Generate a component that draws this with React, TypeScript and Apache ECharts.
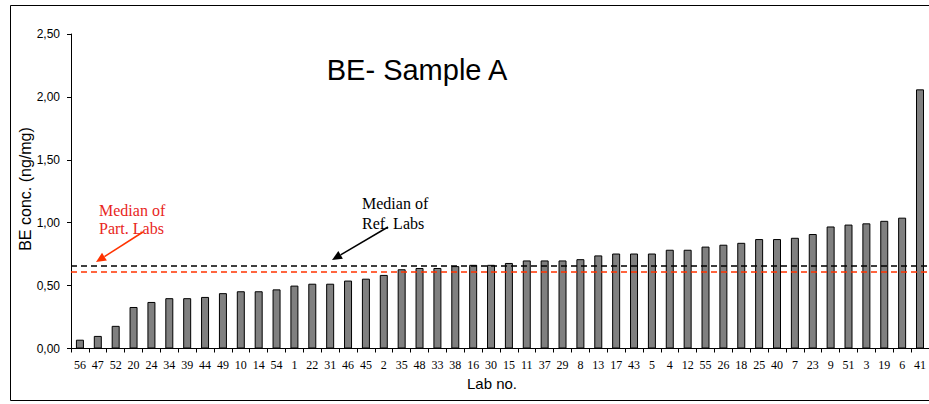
import React, { useEffect, useRef } from "react";
import * as echarts from "echarts";

const labs = ["56","47","52","20","24","34","39","44","49","10","14","54","1","22","31","46","45","2","35","48","33","38","16","30","15","11","37","29","8","13","17","43","5","4","12","55","26","18","25","40","7","23","9","51","3","19","6","41"];
const concentrations = [0.07,0.10,0.18,0.33,0.37,0.40,0.40,0.41,0.44,0.455,0.455,0.47,0.50,0.515,0.515,0.54,0.555,0.585,0.63,0.64,0.64,0.655,0.665,0.665,0.68,0.70,0.70,0.70,0.71,0.74,0.755,0.755,0.755,0.785,0.785,0.81,0.825,0.84,0.87,0.87,0.88,0.91,0.97,0.985,0.995,1.015,1.04,2.06];
const medianRef = 0.655;
const medianPart = 0.61;
const yTicks = [0, 0.5, 1.0, 1.5, 2.0, 2.5];

function arrow(x1: number, y1: number, x2: number, y2: number, color: string) {
  const ang = Math.atan2(y2 - y1, x2 - x1);
  const L = 10, W = 4.5;
  const bx = x2 - L * Math.cos(ang), by = y2 - L * Math.sin(ang);
  const px = -Math.sin(ang) * W, py = Math.cos(ang) * W;
  return [
    { type: "line", shape: { x1, y1, x2: bx, y2: by }, style: { stroke: color, lineWidth: 1.5 } },
    { type: "polygon", shape: { points: [[x2, y2], [bx + px, by + py], [bx - px, by - py]] }, style: { fill: color } },
  ];
}

export default function App() {
  const ref = useRef<HTMLDivElement>(null);
  useEffect(() => {
    if (!ref.current) return;
    const chart = echarts.init(ref.current, null, { renderer: "svg" });
    chart.setOption({
      animation: false,
      backgroundColor: "#ffffff",
      grid: { left: 71, right: 0, top: 34, bottom: 55.5, containLabel: false },
      xAxis: {
        type: "category",
        data: labs,
        name: "Lab no.",
        nameLocation: "middle",
        nameGap: 27,
        nameTextStyle: { fontFamily: "Liberation Sans, Arial", fontSize: 15, color: "#000", padding: [0, 16, 0, 0] },
        axisLine: { lineStyle: { color: "#000", width: 1 } },
        axisTick: { show: true, alignWithLabel: false, length: 4, lineStyle: { color: "#000" } },
        axisLabel: { interval: 0, fontFamily: "Liberation Serif, Times New Roman", fontSize: 12, color: "#000", margin: 10 },
      },
      yAxis: {
        type: "value",
        min: 0,
        max: 2.5,
        interval: 0.5,
        axisLine: { show: true, lineStyle: { color: "#000", width: 1 } },
        axisTick: { show: true, length: 4, lineStyle: { color: "#000" } },
        splitLine: { show: false },
        axisLabel: {
          fontFamily: "Liberation Sans, Arial",
          fontSize: 12,
          color: "#000",
          margin: 11,
          formatter: (v: number) => (yTicks.includes(v) ? v.toFixed(2).replace(".", ",") : ""),
        },
      },
      series: [
        {
          type: "bar",
          data: concentrations,
          barWidth: 8,
          itemStyle: { color: "#808080", borderColor: "#000", borderWidth: 1 },
          markLine: {
            silent: true,
            symbol: "none",
            label: { show: false },
            data: [
              { yAxis: medianRef, lineStyle: { color: "#000", type: [6, 4], width: 1.5 } },
              { yAxis: medianPart, lineStyle: { color: "#ff3300", type: [6, 4], width: 1.5 } },
            ],
          },
        },
      ],
      graphic: [
        { type: "rect", shape: { x: 10.5, y: 5.5, width: 940, height: 395 }, style: { fill: "none", stroke: "#000", lineWidth: 1 }, silent: true },
        { type: "text", x: 25, y: 189, rotation: Math.PI / 2, style: { text: "BE conc. (ng/mg)", font: "16px 'Liberation Sans', Arial", fill: "#000", align: "center", verticalAlign: "middle" } },
        { type: "text", x: 417, y: 70, style: { text: "BE- Sample A", font: "29px 'Liberation Sans', Arial", fill: "#000", align: "center", verticalAlign: "middle" } },
        { type: "text", x: 99, y: 219, style: { text: "Median of\nPart. Labs", font: "16px 'Liberation Serif', 'Times New Roman'", fill: "#e8261c", align: "left", verticalAlign: "middle", lineHeight: 18 } },
        { type: "text", x: 362, y: 213, style: { text: "Median of\nRef. Labs", font: "16px 'Liberation Serif', 'Times New Roman'", fill: "#000", align: "left", verticalAlign: "middle", lineHeight: 20 } },
        ...arrow(143, 232, 96, 262, "#ff3300"),
        ...arrow(388, 227, 332, 260, "#000"),
      ],
    });
    return () => chart.dispose();
  }, []);
  return <div ref={ref} style={{ position: "fixed", left: 0, top: 0, width: 929, height: 404 }} />;
}
